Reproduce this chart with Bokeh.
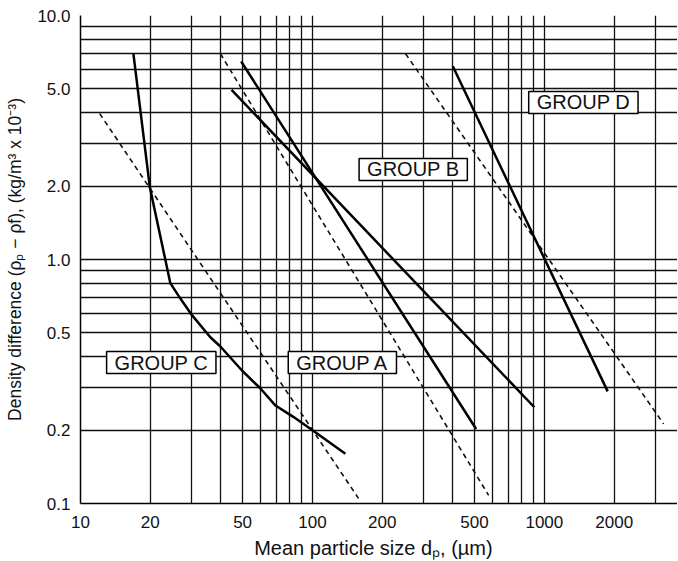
from bokeh.plotting import figure
from bokeh.models import Range1d, FixedTicker, CustomJSTickFormatter, Label
from bokeh.embed import file_html
from bokeh.resources import INLINE

# ---- data ----
# Group C boundary (solid curve)
c_d = [16.9, 19.9, 24.4, 27.0, 30.3, 36.3, 40.1, 49.8, 59.7, 69.3, 83.0, 99.7, 138.7]
c_v = [7.0, 1.98, 0.80, 0.69, 0.59, 0.48, 0.44, 0.35, 0.296, 0.252, 0.226, 0.20, 0.16]

# Group A/B boundary lines (solid)
ab1_d = [49.3, 508]
ab1_v = [6.48, 0.202]
ab2_d = [44.8, 905]
ab2_v = [4.96, 0.248]

# Group B/D boundary (solid)
bd_d = [403, 1875]
bd_v = [6.19, 0.288]

# Dashed reference lines
dash1_d = [12.1, 158]
dash1_v = [3.96, 0.105]
dash2_d = [40.1, 575]
dash2_v = [6.97, 0.108]
dash3_d = [252, 3266]
dash3_v = [6.97, 0.212]

# Tick labels
x_ticks = [10, 20, 50, 100, 200, 500, 1000, 2000]
x_tick_labels = ["10", "20", "50", "100", "200", "500", "1000", "2000"]
y_ticks = [0.1, 0.2, 0.5, 1.0, 2.0, 5.0, 10.0]
y_tick_labels = ["0.1", "0.2", "0.5", "1.0", "2.0", "5.0", "10.0"]

# Grid line positions
x_grid = [20, 30, 40, 50, 60, 70, 80, 90, 100,
          200, 300, 400, 500, 600, 700, 800, 900, 1000, 2000, 3000]
y_grid = [0.2, 0.3, 0.4, 0.5, 0.6, 0.7, 0.8, 0.9, 1.0,
          2, 3, 4, 5, 6, 7, 8, 9, 10]

# Group labels
group_names = ["GROUP A", "GROUP B", "GROUP C", "GROUP D"]
group_x = [134.6, 272, 22.3, 1473]
group_y = [0.378, 2.34, 0.378, 4.40]

FONT = "Liberation Sans"

p = figure(frame_width=597, frame_height=488, x_axis_type="log", y_axis_type="log",
           x_range=Range1d(10, 3750), y_range=Range1d(0.1, 10),
           output_backend="svg", toolbar_location=None,
           min_border_left=80, min_border_right=0, min_border_top=15, min_border_bottom=57)

p.outline_line_color = None
p.background_fill_color = "white"

# grids
p.xgrid.ticker = FixedTicker(ticks=x_grid)
p.ygrid.ticker = FixedTicker(ticks=y_grid)
for g in (p.xgrid, p.ygrid):
    g.grid_line_color = "#111111"
    g.grid_line_width = 1.3
    g.grid_line_alpha = 1.0
    g.minor_grid_line_color = None

fmt_code = """
let best = -1;
for (let i = 0; i < vals.length; i++) {
  if (Math.abs(vals[i] - tick) <= 1e-6 * Math.abs(vals[i])) { best = i; }
}
return best >= 0 ? labs[best] : '';
"""
p.xaxis.ticker = FixedTicker(ticks=x_ticks)
p.yaxis.ticker = FixedTicker(ticks=y_ticks)
p.xaxis.formatter = CustomJSTickFormatter(args=dict(vals=x_ticks, labs=x_tick_labels), code=fmt_code)
p.yaxis.formatter = CustomJSTickFormatter(args=dict(vals=y_ticks, labs=y_tick_labels), code=fmt_code)

for ax in (p.xaxis, p.yaxis):
    ax.axis_line_color = "black"
    ax.axis_line_width = 1.5
    ax.major_tick_line_color = None
    ax.minor_tick_line_color = None
    ax.major_label_text_font = FONT
    ax.major_label_text_font_size = "17px"
    ax.major_label_text_color = "#111111"
    ax.axis_label_text_font = FONT
    ax.axis_label_text_font_style = "normal"
    ax.axis_label_text_color = "#111111"

p.xaxis.axis_label_text_font_size = "20px"
p.yaxis.axis_label_text_font_size = "17.5px"
p.xaxis.major_label_standoff = 6
p.yaxis.major_label_standoff = 4
p.xaxis.axis_label_standoff = 6
p.yaxis.axis_label_standoff = 9
p.xaxis.axis_label = "Mean particle size   dₚ, (µm)"
p.yaxis.axis_label = "Density difference (ρₚ − ρf), (kg/m³ x 10⁻³)"

# dashed lines
for dx, dy in ((dash1_d, dash1_v), (dash2_d, dash2_v), (dash3_d, dash3_v)):
    p.line(dx, dy, line_color="#111111", line_width=1.6, line_dash="5 4")

# solid boundaries
p.line(c_d, c_v, line_color="black", line_width=2.5)
p.line(ab1_d, ab1_v, line_color="black", line_width=2.5)
p.line(ab2_d, ab2_v, line_color="black", line_width=2.5)
p.line(bd_d, bd_v, line_color="black", line_width=2.5)

for name, gx, gy in zip(group_names, group_x, group_y):
    p.add_layout(Label(x=gx, y=gy, text=name, text_align="center", text_baseline="middle",
                       text_font=FONT, text_font_size="20px", text_color="#111111",
                       background_fill_color="white", border_line_color="black",
                       border_line_width=1.5, padding=(8, 0)))

open("out.html", "w").write(file_html(p, INLINE))
